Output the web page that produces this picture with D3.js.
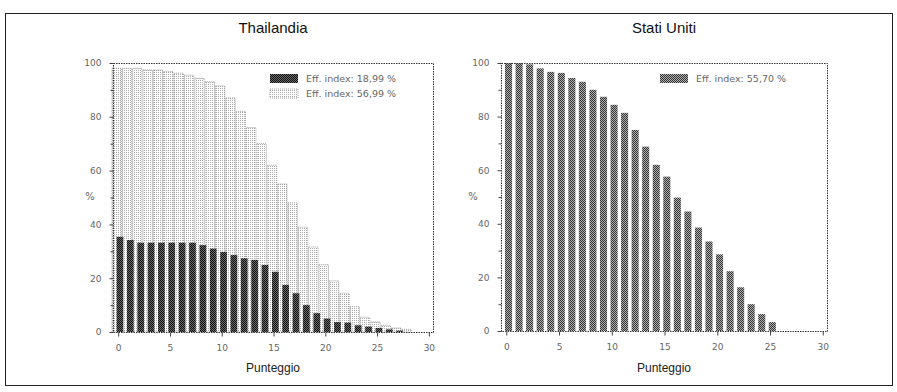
<!DOCTYPE html>
<html><head><meta charset="utf-8">
<script src="https://cdn.jsdelivr.net/npm/d3@7"></script>
<style>body{margin:0;background:#fff} svg{display:block}</style>
</head><body><svg id="c" width="897" height="392"></svg>
<script>
// ---- data ----
const thaiScores = [0,1,2,3,4,5,6,7,8,9,10,11,12,13,14,15,16,17,18,19,20,21,22,23,24,25,26,27,28];
const thaiHigh = [98,98,98,97.4,97.4,96.8,96.2,95.5,94.3,93,91.5,87,82,76,70,62,55,48,39,31.6,25,19,14.4,9.4,5.5,3.7,2.5,1.5,1];
const thaiLow  = [35.4,34.2,33.2,33.2,33.2,33.2,33.2,33.2,32.3,31,29.8,28.6,27.4,26.8,24.9,22.4,17.5,14.4,10,7,5,3.7,3.5,2.5,2,1.5,1,0.5,0];
const usScores = [0,1,2,3,4,5,6,7,8,9,10,11,12,13,14,15,16,17,18,19,20,21,22,23,24,25];
const usValues = [100,100,99.5,98,96.7,96.3,94.4,93,90,87.4,84.4,81.4,75,68.8,62,57.6,49.8,44.6,38.6,33.4,28.6,22.3,16.3,10,6.3,3.3];
const xTickValues = [0,5,10,15,20,25,30];
const yTickValues = [0,20,40,60,80,100];
const yMinorValues = [10,30,50,70,90];
const titles = ["Thailandia","Stati Uniti"];
const thaiLegend = ["Eff. index: 18,99 %","Eff. index: 56,99 %"];
const usLegend = ["Eff. index: 55,70 %"];
const xTitle = "Punteggio";
const yTitle = "%";

const svg = d3.select("#c");
const defs = svg.append("defs");
function pat(id, bg, fg, cells){
  const p = defs.append("pattern").attr("id", id).attr("width", 2).attr("height", 2)
    .attr("patternUnits", "userSpaceOnUse");
  p.append("rect").attr("width", 2).attr("height", 2).attr("fill", bg);
  cells.forEach(c => p.append("rect").attr("x", c[0]).attr("y", c[1]).attr("width", 1).attr("height", 1).attr("fill", fg));
}
pat("darkHT", "#6a6a6a", "#111111", [[0,0],[1,1]]);
pat("usHT", "#b0b0b0", "#333333", [[0,0],[1,1]]);
pat("lightHT", "#ffffff", "#aaaaaa", [[0,0]]);

// outer border
svg.append("rect").attr("x", 5.5).attr("y", 13.5).attr("width", 887).attr("height", 372)
  .attr("fill", "none").attr("stroke", "#222").attr("stroke-width", 1);

function panel(cfg){
  const g = svg.append("g");
  const x = d3.scaleLinear().domain([-0.5, 30.4]).range([cfg.x0, cfg.x1]);
  const y = d3.scaleLinear().domain([0, 100]).range([cfg.y1, cfg.y0]);

  g.append("text").attr("x", (cfg.x0 + cfg.x1) / 2).attr("y", 33)
    .attr("text-anchor", "middle").attr("font-family", "Liberation Sans, Arial, sans-serif")
    .attr("font-size", 15).attr("fill", "#111").text(cfg.title);

  cfg.series.forEach(s => {
    g.selectAll(null).data(s.values.map((v, i) => ({k: s.keys[i], v})))
      .enter().append("rect")
      .attr("x", d => x(d.k + s.off0))
      .attr("width", d => x(d.k + s.off1) - x(d.k + s.off0))
      .attr("y", d => y(d.v))
      .attr("height", d => y(0) - y(d.v))
      .attr("fill", s.fill)
      .attr("stroke", s.stroke || "none")
      .attr("stroke-width", 0.8)
      .attr("stroke-dasharray", s.stroke ? "1,1" : null);
  });

  g.append("rect").attr("x", cfg.x0 + 0.5).attr("y", cfg.y0 + 0.5)
    .attr("width", cfg.x1 - cfg.x0).attr("height", cfg.y1 - cfg.y0)
    .attr("fill", "none").attr("stroke", "#333").attr("stroke-width", 1)
    .attr("stroke-dasharray", "1.5,1");

  const yAxis = d3.axisLeft(y).tickValues(yTickValues).tickSize(4).tickPadding(8).tickFormat(d3.format("d"));
  const ya = g.append("g").attr("transform", `translate(${cfg.x0 + 0.5},0)`).call(yAxis);
  ya.select(".domain").remove();
  ya.selectAll("line").attr("stroke", "#444");
  ya.selectAll("text").attr("font-family", "DejaVu Sans, sans-serif").attr("font-size", 9).attr("fill", "#666");
  const yMinor = d3.axisLeft(y).tickValues(yMinorValues).tickSize(3).tickFormat("");
  const ym = g.append("g").attr("transform", `translate(${cfg.x0 + 0.5},0)`).call(yMinor);
  ym.select(".domain").remove();
  ym.selectAll("line").attr("stroke", "#444");

  const xAxis = d3.axisBottom(x).tickValues(xTickValues).tickSize(4).tickPadding(8).tickFormat(d3.format("d"));
  const xa = g.append("g").attr("transform", `translate(0,${cfg.y1 + 0.5})`).call(xAxis);
  xa.select(".domain").remove();
  xa.selectAll("line").attr("stroke", "#444");
  xa.selectAll("text").attr("font-family", "DejaVu Sans, sans-serif").attr("font-size", 9).attr("fill", "#666");

  g.append("text").attr("x", (cfg.x0 + cfg.x1) / 2).attr("y", 372)
    .attr("text-anchor", "middle").attr("font-family", "Liberation Sans, Arial, sans-serif")
    .attr("font-size", 12).attr("fill", "#222").text(xTitle);
  g.append("text").attr("x", cfg.yLabelX).attr("y", 200)
    .attr("text-anchor", "middle").attr("font-family", "DejaVu Sans, sans-serif")
    .attr("font-size", 10).attr("fill", "#666").text(yTitle);

  cfg.legend.forEach((L, i) => {
    const ly = cfg.legY + i * 15;
    g.append("rect").attr("x", cfg.legX).attr("y", ly - 4).attr("width", 28).attr("height", 9)
      .attr("fill", L.fill).attr("stroke", L.stroke || "none").attr("stroke-width", 0.8)
      .attr("stroke-dasharray", L.stroke ? "1,1" : null);
    g.append("text").attr("x", cfg.legX + 36).attr("y", ly + 3.5)
      .attr("font-family", "DejaVu Sans, sans-serif").attr("font-size", 9.5).attr("fill", "#666")
      .text(L.text);
  });
}

panel({
  x0: 113, x1: 433, y0: 63, y1: 332, title: titles[0], yLabelX: 90,
  series: [
    {keys: thaiScores, values: thaiHigh, off0: -0.6, off1: 0.3, fill: "url(#lightHT)", stroke: "#888"},
    {keys: thaiScores, values: thaiLow, off0: -0.15, off1: 0.5, fill: "url(#darkHT)"}
  ],
  legX: 270, legY: 78,
  legend: [
    {fill: "url(#darkHT)", text: thaiLegend[0]},
    {fill: "url(#lightHT)", stroke: "#888", text: thaiLegend[1]}
  ]
});

panel({
  x0: 501, x1: 827, y0: 63, y1: 331, title: titles[1], yLabelX: 473,
  series: [
    {keys: usScores, values: usValues, off0: -0.12, off1: 0.55, fill: "url(#usHT)"}
  ],
  legX: 660, legY: 78,
  legend: [
    {fill: "url(#usHT)", text: usLegend[0]}
  ]
});
</script></body></html>
